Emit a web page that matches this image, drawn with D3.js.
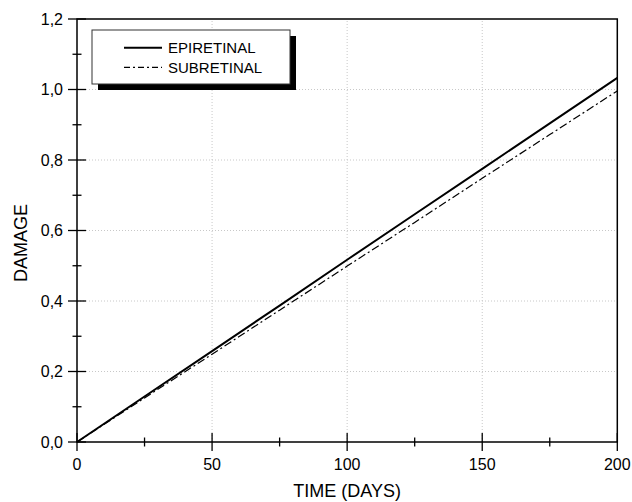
<!DOCTYPE html>
<html>
<head>
<meta charset="utf-8">
<script src="https://cdn.jsdelivr.net/npm/d3@7"></script>
<style>
  body { margin: 0; background: #fff; }
  text { font-family: Arial, "Liberation Sans", sans-serif; fill: #000; }
</style>
</head>
<body>
<script>
const width = 632;
const height = 502;
const margin = { top: 19, right: 14, bottom: 60, left: 77 };

// dati
const days = [0, 25, 50, 75, 100, 125, 150, 175, 200];
const epiretinal = [0, 0.129, 0.258, 0.387, 0.517, 0.646, 0.775, 0.904, 1.033];
const subretinal = [0, 0.125, 0.249, 0.374, 0.499, 0.623, 0.748, 0.872, 0.996];
const xTicks = [0, 50, 100, 150, 200];
const xMinor = [25, 75, 125, 175];
const yTicks = [0, 0.2, 0.4, 0.6, 0.8, 1.0, 1.2];
const yMinor = [0.1, 0.3, 0.5, 0.7, 0.9, 1.1];
const seriesNames = ['EPIRETINAL', 'SUBRETINAL'];

const x = d3.scaleLinear().domain([0, 200]).range([margin.left, width - margin.right - 0.7]);
const y = d3.scaleLinear().domain([0, 1.2]).range([442, margin.top]);

const svg = d3.select('body').append('svg')
  .attr('width', width)
  .attr('height', height);

const fmt = d => d3.format('.1f')(d).replace('.', ',');

// griglia tratteggiata
svg.append('g').selectAll('line')
  .data(xTicks.filter(d => d > 0 && d < 200))
  .enter().append('line')
  .attr('x1', d => x(d)).attr('x2', d => x(d))
  .attr('y1', y(0)).attr('y2', y(1.2))
  .attr('stroke', '#c8c8c8').attr('stroke-dasharray', '1,2');
svg.append('g').selectAll('line')
  .data(yTicks.filter(d => d > 0 && d < 1.2))
  .enter().append('line')
  .attr('x1', x(0)).attr('x2', x(200))
  .attr('y1', d => y(d)).attr('y2', d => y(d))
  .attr('stroke', '#c8c8c8').attr('stroke-dasharray', '1,2');

// cornice
svg.append('rect')
  .attr('x', x(0)).attr('y', y(1.2))
  .attr('width', x(200) - x(0)).attr('height', y(0) - y(1.2))
  .attr('fill', 'none').attr('stroke', '#000').attr('stroke-width', 1.5);

// assi con tacche che attraversano la linea
const xAxis = svg.append('g').attr('transform', `translate(0,${y(0)})`);
xAxis.selectAll('.major').data(xTicks).enter().append('line')
  .attr('x1', d => x(d)).attr('x2', d => x(d)).attr('y1', -9).attr('y2', 9)
  .attr('stroke', '#000').attr('stroke-width', 1.3);
xAxis.selectAll('.minor').data(xMinor).enter().append('line')
  .attr('x1', d => x(d)).attr('x2', d => x(d)).attr('y1', -4.5).attr('y2', 4.5)
  .attr('stroke', '#000').attr('stroke-width', 1.3);
xAxis.selectAll('text').data(xTicks).enter().append('text')
  .attr('x', d => x(d)).attr('y', 28)
  .attr('text-anchor', 'middle').attr('font-size', 16)
  .text(d => d);

const yAxis = svg.append('g').attr('transform', `translate(${x(0)},0)`);
yAxis.selectAll('.major').data(yTicks).enter().append('line')
  .attr('y1', d => y(d)).attr('y2', d => y(d)).attr('x1', -9).attr('x2', 9)
  .attr('stroke', '#000').attr('stroke-width', 1.3);
yAxis.selectAll('.minor').data(yMinor).enter().append('line')
  .attr('y1', d => y(d)).attr('y2', d => y(d)).attr('x1', -4.5).attr('x2', 4.5)
  .attr('stroke', '#000').attr('stroke-width', 1.3);
yAxis.selectAll('text').data(yTicks).enter().append('text')
  .attr('x', -14).attr('y', d => y(d)).attr('dy', '0.35em')
  .attr('text-anchor', 'end').attr('font-size', 16)
  .text(fmt);

// titoli assi
svg.append('text')
  .attr('x', (x(0) + x(200)) / 2).attr('y', 497)
  .attr('text-anchor', 'middle').attr('font-size', 18)
  .text('TIME (DAYS)');
svg.append('text')
  .attr('transform', 'translate(27,243) rotate(-90)')
  .attr('text-anchor', 'middle').attr('font-size', 18)
  .text('DAMAGE');

// curve
const line = d3.line().x((d, i) => x(days[i])).y(d => y(d));
svg.append('path').datum(epiretinal)
  .attr('d', line).attr('fill', 'none')
  .attr('stroke', '#000').attr('stroke-width', 2);
svg.append('path').datum(subretinal)
  .attr('d', line).attr('fill', 'none')
  .attr('stroke', '#000').attr('stroke-width', 1.2)
  .attr('stroke-dasharray', '8,3,2,3');

// legenda con ombra
const lg = svg.append('g').attr('transform', 'translate(92,30)');
lg.append('rect').attr('x', 6).attr('y', 6).attr('width', 198).attr('height', 54).attr('fill', '#000');
lg.append('rect').attr('x', 0).attr('y', 0).attr('width', 198).attr('height', 54)
  .attr('fill', '#fff').attr('stroke', '#333').attr('stroke-width', 1);
const rows = lg.selectAll('.row').data(seriesNames).enter().append('g')
  .attr('transform', (d, i) => `translate(0,${17.7 + i * 19.6})`);
rows.append('line').attr('x1', 32).attr('x2', 70).attr('y1', 0).attr('y2', 0)
  .attr('stroke', '#000')
  .attr('stroke-width', (d, i) => i === 0 ? 2 : 1.2)
  .attr('stroke-dasharray', (d, i) => i === 0 ? null : '6,3,2,3');
rows.append('text').attr('x', 76).attr('dy', '0.35em')
  .attr('font-size', 15).text(d => d);
</script>
</body>
</html>
